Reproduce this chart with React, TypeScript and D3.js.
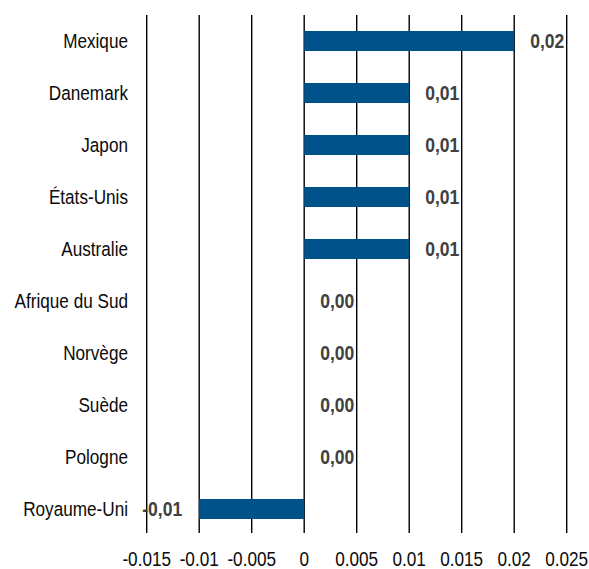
import React from "react";
import * as d3 from "d3";

const categories = ["Mexique", "Danemark", "Japon", "États-Unis", "Australie", "Afrique du Sud", "Norvège", "Suède", "Pologne", "Royaume-Uni"];
const values = [0.02, 0.01, 0.01, 0.01, 0.01, 0, 0, 0, 0, -0.01];
const tickValues = [-0.015, -0.01, -0.005, 0, 0.005, 0.01, 0.015, 0.02, 0.025];

const W = 589;
const H = 569;
const FONT = "'Liberation Sans', Arial, sans-serif";
const SX = 0.88;

export default function App() {
  const x = d3.scaleLinear().domain([-0.015, 0.025]).range([146.7, 566.7]);
  const y = d3.scaleBand<string>().domain(categories).range([15, 535]).paddingInner(0.615).paddingOuter(0.3075);
  const fmtVal = (v: number) => {
    const s = Math.abs(v).toFixed(2).replace(".", ",");
    return (v < 0 ? "-" : "") + s;
  };
  const fmtTick = (v: number) => String(Math.round(v * 1000) / 1000);
  return (
    <svg width={W} height={H} style={{ position: "absolute", left: 0, top: 0, background: "#fff" }} fontFamily={FONT}>
      {tickValues.map((t) => (
        <line key={"g" + t} x1={x(t)} x2={x(t)} y1={15} y2={533} stroke="#000" strokeWidth={1.4} />
      ))}
      {categories.map((c, i) => {
        const v = values[i];
        const x0 = x(Math.min(0, v));
        const x1 = x(Math.max(0, v));
        return <rect key={"b" + c} x={x0} y={y(c)!} width={x1 - x0} height={y.bandwidth()} fill="#00538a" />;
      })}
      {categories.map((c, i) => {
        const v = values[i];
        const cy = y(c)! + y.bandwidth() / 2;
        const xe = x(v);
        const tx = v < 0 ? xe - 17 : xe + 16;
        return (
          <text
            key={"v" + c}
            transform={`translate(${tx},${cy}) scale(0.9,1)`}
            dy="0.35em"
            textAnchor={v < 0 ? "end" : "start"}
            fontSize={19.5}
            fontWeight="bold"
            fill="#404040"
          >
            {fmtVal(v)}
          </text>
        );
      })}
      {categories.map((c) => (
        <text
          key={"c" + c}
          transform={`translate(128,${y(c)! + y.bandwidth() / 2}) scale(${SX},1)`}
          dy="0.35em"
          textAnchor="end"
          fontSize={19.5}
          fill="#0a0a0a"
        >
          {c}
        </text>
      ))}
      {tickValues.map((t) => (
        <text
          key={"t" + t}
          transform={`translate(${x(t)},559) scale(${SX},1)`}
          dy="0.35em"
          textAnchor="middle"
          fontSize={19.5}
          fill="#0a0a0a"
        >
          {fmtTick(t)}
        </text>
      ))}
    </svg>
  );
}
